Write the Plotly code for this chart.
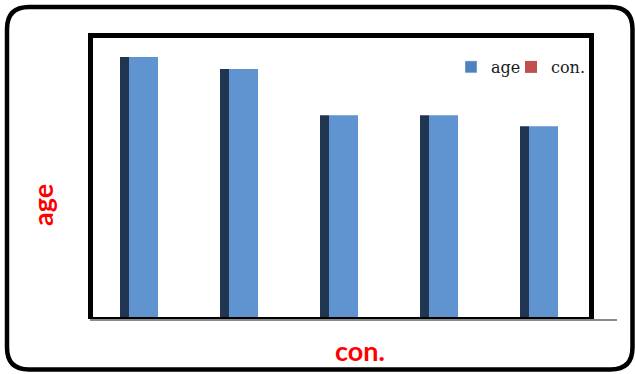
import plotly.graph_objects as go

# ---- data ----
categories = [1, 2, 3, 4, 5]
age_values = [26.0, 24.8, 20.2, 20.2, 19.1]
con_values = [0, 0, 0, 0, 0]
y_title = "age"
x_title = "con."

W, H = 635, 374
L, R, T, B = 93, 589, 37, 318  # plot area in pixels
PW, PH = R - L, B - T


def px(x):
    return (x - L) / PW


def py(y):
    return (B - y) / PH


fig = go.Figure()

# 3D-ish side of the bars (dark)
fig.add_trace(go.Bar(x=categories, y=age_values, width=0.09, offset=-0.235,
                     marker=dict(color="#1F3550", line=dict(width=0)),
                     showlegend=False, hoverinfo="skip"))
# front of the bars
fig.add_trace(go.Bar(x=categories, y=age_values, width=0.29, offset=-0.145,
                     marker=dict(color="#6094D0", line=dict(width=0)),
                     name="age", showlegend=False))
# legend entries
fig.add_trace(go.Bar(x=[None], y=[None], name="age", legend="legend",
                     marker=dict(color="#4F81BD")))
fig.add_trace(go.Bar(x=categories, y=con_values, name="con.", legend="legend2",
                     marker=dict(color="#C0504D", line=dict(width=0))))

shapes = []


def rect(x0, y0, x1, y1, color):
    shapes.append(dict(type="rect", xref="paper", yref="paper",
                       x0=px(x0), x1=px(x1), y0=py(y1), y1=py(y0),
                       fillcolor=color, line=dict(width=0), layer="above"))


# plot frame
rect(88, 33, 594, 38, "black")   # top
rect(88, 33, 93, 319, "black")   # left
rect(589, 33, 594, 319, "black")  # right
rect(90, 317, 592, 319, "black")  # bottom
rect(90, 319, 617, 321, "#8A8A8A")  # axis line

# outer rounded border
x0, y0, x1, y1, r = 7, 7, 632.5, 369.5, 22
path = (f"M{px(x0 + r)},{py(y0)} L{px(x1 - r)},{py(y0)} "
        f"Q{px(x1)},{py(y0)} {px(x1)},{py(y0 + r)} "
        f"L{px(x1)},{py(y1 - r)} Q{px(x1)},{py(y1)} {px(x1 - r)},{py(y1)} "
        f"L{px(x0 + r)},{py(y1)} Q{px(x0)},{py(y1)} {px(x0)},{py(y1 - r)} "
        f"L{px(x0)},{py(y0 + r)} Q{px(x0)},{py(y0)} {px(x0 + r)},{py(y0)} Z")
shapes.append(dict(type="path", xref="paper", yref="paper", path=path,
                   line=dict(color="black", width=4.5), layer="above"))

annotations = [
    dict(text=f"<b>{y_title}</b>", xref="paper", yref="paper",
         x=px(42), y=py(205), textangle=-90, showarrow=False,
         xanchor="center", yanchor="middle",
         font=dict(family="Lato", size=27, color="#FF0000")),
    dict(text=f"<b>{x_title}</b>", xref="paper", yref="paper",
         x=px(360), y=py(350), showarrow=False,
         xanchor="center", yanchor="middle",
         font=dict(family="Lato", size=27, color="#FF0000")),
]

legend_font = dict(family="DejaVu Serif", size=16, color="#1A1A1A")
common = dict(orientation="h", xanchor="left", yanchor="top",
              bgcolor="rgba(0,0,0,0)", font=legend_font,
              itemclick=False, itemdoubleclick=False)

fig.update_layout(
    width=W, height=H,
    margin=dict(l=L, r=W - R, t=T, b=H - B),
    paper_bgcolor="white", plot_bgcolor="white",
    barmode="overlay",
    xaxis=dict(range=[0.495, 5.455], showgrid=False, zeroline=False,
               showticklabels=False, ticks="", showline=False),
    yaxis=dict(range=[0, 28], showgrid=False, zeroline=False,
               showticklabels=False, ticks="", showline=False),
    legend=dict(x=px(451), y=py(50), **common),
    legend2=dict(x=px(511), y=py(50), **common),
    shapes=shapes,
    annotations=annotations,
)

fig.write_html("out.html")
